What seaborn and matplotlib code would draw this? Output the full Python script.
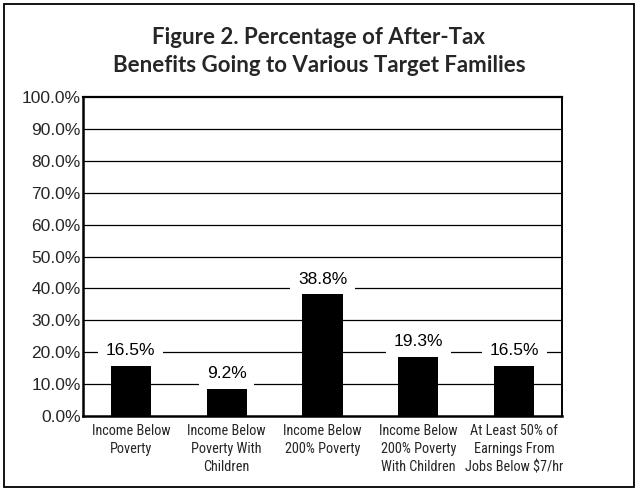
import matplotlib
matplotlib.use("Agg")
import matplotlib.pyplot as plt
from matplotlib import font_manager
from matplotlib.patches import Rectangle
import seaborn as sns
import pandas as pd

categories = [
    "Income Below\nPoverty",
    "Income Below\nPoverty With\nChildren",
    "Income Below\n200% Poverty",
    "Income Below\n200% Poverty\nWith Children",
    "At Least 50% of\nEarnings From\nJobs Below $7/hr",
]
shares = [16.5, 9.2, 38.8, 19.3, 16.5]
y_ticks = [0, 10, 20, 30, 40, 50, 60, 70, 80, 90, 100]
title_lines = ["Figure 2. Percentage of After-Tax",
               "Benefits Going to Various Target Families"]

sns.set_theme(style="white")
plt.rcParams["font.family"] = ["Liberation Sans", "DejaVu Sans"]

# condensed face for the category names
installed = {f.name for f in font_manager.fontManager.ttflist}
cat_font = dict(family="Liberation Sans", size=8.5)
for fam in ["Roboto Condensed", "Archivo Narrow", "PT Sans Narrow"]:
    if fam in installed:
        cat_font = dict(family=fam, size=10.3)
        break

df = pd.DataFrame({"category": categories, "share": shares})

fig = plt.figure(figsize=(6.38, 4.91), dpi=100)
ax = fig.add_axes([0.130, 0.1527, 0.751, 0.6497])

ax.set_axisbelow(True)
for t in y_ticks[1:-1]:
    ax.axhline(t, color="black", lw=0.9, zorder=0)

sns.barplot(data=df, x="category", y="share", color="black", width=0.42,
            saturation=1, ax=ax, zorder=2)
for p in ax.patches:
    p.set_facecolor("black")
    p.set_edgecolor("none")

ax.set_ylim(0, 100)
ax.set_xlim(-0.5, len(categories) - 0.5)
ax.set_yticks(y_ticks)
ax.set_yticklabels([f"{v:.1f}%" for v in y_ticks], fontsize=12.5)
ax.set_xticks(range(len(categories)))
ax.set_xticklabels(categories, fontdict=cat_font, linespacing=1.4)
ax.tick_params(axis="y", length=0, pad=1.5)
ax.tick_params(axis="x", length=0, pad=5.5)
ax.set_xlabel("")
ax.set_ylabel("")

for side in ["left", "bottom", "top", "right"]:
    ax.spines[side].set_visible(True)
    ax.spines[side].set_color("black")
ax.spines["left"].set_linewidth(1.8)
ax.spines["bottom"].set_linewidth(1.8)
ax.spines["top"].set_linewidth(1.6)
ax.spines["right"].set_linewidth(1.4)

for i, v in enumerate(shares):
    ax.annotate(f"{v:.1f}%", xy=(i, v), xytext=(0, 9.5),
                textcoords="offset points", ha="center", va="center",
                fontsize=12.5, color="black", zorder=3,
                bbox=dict(boxstyle="square,pad=0.45", fc="white", ec="none"))

fig.text(0.5, 0.924, title_lines[0], ha="center", va="center",
         family=["Lato", "DejaVu Sans"], weight="bold", fontsize=16)
fig.text(0.5, 0.866, title_lines[1], ha="center", va="center",
         family=["Lato", "DejaVu Sans"], weight="bold", fontsize=16)

fig.patches.append(Rectangle((4 / 638, 4 / 491), 630 / 638, 483 / 491,
                             transform=fig.transFigure, fill=False,
                             ec="black", lw=1.3))

fig.savefig("out.png", dpi=100)
